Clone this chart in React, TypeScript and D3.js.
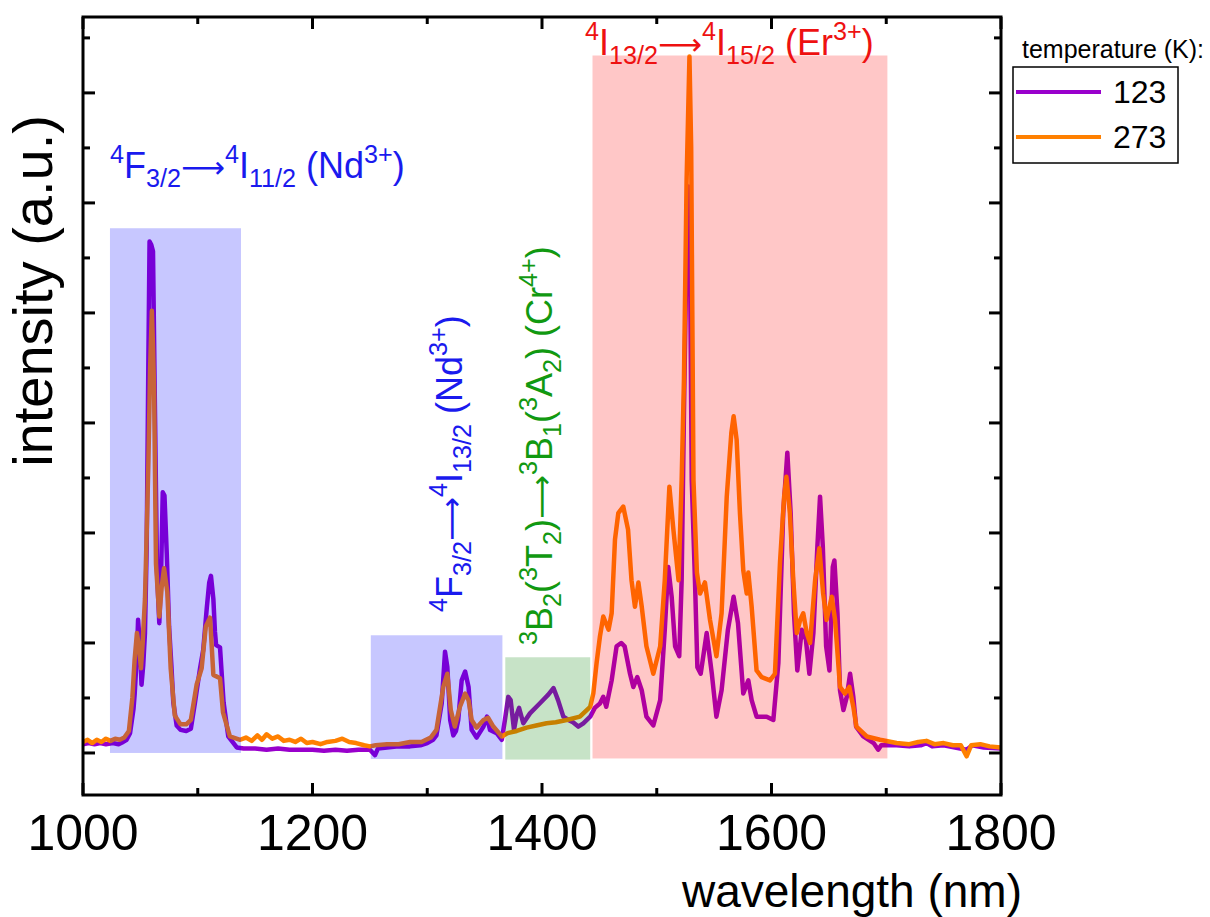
import React from "react";
import * as d3 from "d3";

// emission spectra: [wavelength nm, intensity a.u.]
const spec123: [number, number][] = [
  [1000, 0.08], [1005, 0.09], [1010, 0.08], [1015, 0.09], [1020, 0.08], [1026, 0.09], [1031, 0.08],
  [1035, 0.1], [1038, 0.12], [1041, 0.18], [1044, 0.4], [1045, 0.53], [1047, 0.9], [1048, 1.21],
  [1049.5, 1.0], [1051, 0.62], [1052.5, 0.8], [1054, 1.09], [1055.5, 1.87], [1057, 3.6], [1058, 4.65],
  [1059.5, 4.62], [1061, 4.56], [1062.5, 3.28], [1064.5, 1.65], [1066.5, 1.18], [1068, 1.6],
  [1069.5, 2.37], [1071, 2.34], [1073, 1.81], [1075, 1.15], [1077, 0.8], [1078.7, 0.46], [1081.6, 0.25],
  [1085, 0.21], [1090, 0.2], [1094, 0.22], [1097.6, 0.46], [1102, 0.77], [1104.8, 0.94], [1107.8, 1.31],
  [1110, 1.55], [1111.5, 1.61], [1113.6, 1.4], [1115, 1.1], [1116, 0.98], [1119.4, 0.96], [1121, 0.7],
  [1122.5, 0.46], [1126.6, 0.15], [1134, 0.05], [1140, 0.04], [1150, 0.04], [1160, 0.03], [1170, 0.04],
  [1180, 0.03], [1190, 0.03], [1200, 0.03], [1210, 0.02], [1220, 0.03], [1230, 0.02], [1240, 0.03],
  [1250, 0.03], [1254.5, -0.02], [1257, 0.04], [1265, 0.05], [1275, 0.06], [1285, 0.06], [1294, 0.07],
  [1300, 0.09], [1305, 0.12], [1308, 0.16], [1312.6, 0.45], [1315.5, 0.92], [1317.5, 0.78], [1320, 0.3],
  [1322.7, 0.16], [1325, 0.2], [1327, 0.3], [1330, 0.66], [1333, 0.74], [1336, 0.6], [1338.7, 0.21],
  [1343, 0.14], [1349, 0.24], [1352, 0.33], [1354.7, 0.21], [1360.5, 0.18], [1365, 0.12], [1367.7, 0.3],
  [1370.6, 0.51], [1372.7, 0.48], [1375.6, 0.21], [1378, 0.35], [1380, 0.41], [1383.7, 0.27],
  [1389.5, 0.36], [1398, 0.45], [1405.5, 0.53], [1410, 0.59], [1414, 0.48], [1418.6, 0.33], [1423, 0.3],
  [1427, 0.28], [1431.6, 0.24], [1436, 0.27], [1442, 0.33], [1446, 0.41], [1450.5, 0.45], [1453.4, 0.51],
  [1456, 0.42], [1460.7, 0.66], [1465, 0.97], [1469, 1.0], [1472, 0.97], [1476.7, 0.72], [1479.6, 0.6],
  [1483, 0.69], [1486.9, 0.57], [1491, 0.33], [1497, 0.25], [1503, 0.48], [1507, 1.12], [1510, 1.69],
  [1513, 1.42], [1516, 0.97], [1519.6, 0.88], [1521.7, 1.57], [1523.7, 3.09], [1526, 4.6], [1527.5, 5.15],
  [1529, 4.5], [1530.5, 2.48], [1533.3, 1.57], [1535.4, 0.78], [1538.3, 0.72], [1543.5, 1.09], [1548, 0.72],
  [1552, 0.33], [1556.5, 0.57], [1562, 1.12], [1567, 1.42], [1570.8, 1.18], [1575.4, 0.54], [1579.8, 0.66],
  [1582.7, 0.48], [1587, 0.33], [1595.8, 0.33], [1601.6, 0.3], [1606, 0.82], [1610.2, 2.18], [1613.8, 2.73],
  [1616.7, 2.18], [1619.6, 1.27], [1622.5, 0.75], [1626.4, 1.12], [1630, 1.03], [1633, 0.72], [1636.5, 1.09],
  [1640, 1.88], [1642.3, 2.33], [1644.7, 1.88], [1647.6, 0.97], [1650.5, 0.75], [1653.4, 1.69],
  [1654.8, 1.75], [1657.5, 1.27], [1659.7, 0.57], [1662.7, 0.39], [1665.6, 0.51], [1668.5, 0.72],
  [1671.3, 0.51], [1673.7, 0.24], [1680, 0.15], [1689, 0.09], [1693, 0.03], [1695.6, 0.07], [1709, 0.07],
  [1720, 0.06], [1730, 0.07], [1735, 0.09], [1740, 0.06], [1750, 0.07], [1760, 0.05], [1770, 0.03],
  [1775, 0.07], [1785, 0.05], [1800, 0.04],
];

const spec273: [number, number][] = [
  [1000, 0.1], [1004, 0.12], [1008, 0.09], [1012, 0.12], [1016, 0.1], [1020, 0.13], [1024, 0.11],
  [1028, 0.13], [1032, 0.12], [1036, 0.14], [1040, 0.2], [1043, 0.5], [1045, 0.85], [1047, 1.09],
  [1049, 0.95], [1050.5, 0.77], [1052, 1.0], [1054, 1.4], [1055.5, 2.0], [1057, 2.65], [1058.5, 3.5],
  [1060, 4.02], [1061, 3.7], [1062, 3.28], [1063.6, 1.72], [1066.5, 1.24], [1068.5, 1.5], [1070.6, 1.68],
  [1073.5, 1.46], [1076.4, 0.77], [1080, 0.34], [1085, 0.26], [1090, 0.26], [1094, 0.3], [1099, 0.62],
  [1103.4, 0.77], [1107, 1.15], [1110.7, 1.23], [1112, 1.0], [1113.6, 0.71], [1119.4, 0.68], [1122, 0.37],
  [1128, 0.15], [1137, 0.12], [1142, 0.14], [1147, 0.11], [1152, 0.16], [1156, 0.12], [1160, 0.17],
  [1165, 0.13], [1170, 0.15], [1175, 0.11], [1180, 0.12], [1185, 0.1], [1190, 0.13], [1195, 0.09],
  [1200, 0.1], [1207, 0.08], [1213, 0.1], [1220, 0.11], [1226, 0.13], [1232, 0.1], [1238, 0.09],
  [1245, 0.07], [1250, 0.06], [1255, 0.07], [1265, 0.08], [1275, 0.08], [1285, 0.1], [1295, 0.1],
  [1303, 0.14], [1308, 0.21], [1314, 0.6], [1317.5, 0.72], [1320.5, 0.39], [1324, 0.24], [1328.5, 0.42],
  [1333, 0.54], [1336, 0.48], [1338.7, 0.3], [1343, 0.23], [1349, 0.3], [1353, 0.32], [1357.6, 0.24],
  [1365, 0.15], [1370, 0.18], [1378, 0.2], [1386.6, 0.23], [1395, 0.25], [1404, 0.27], [1412, 0.28],
  [1421.5, 0.3], [1433, 0.33], [1442, 0.42], [1444.7, 0.54], [1447.6, 0.82], [1450.5, 1.06],
  [1453.4, 1.24], [1458, 1.12], [1460.7, 1.27], [1463.6, 1.94], [1466.5, 2.18], [1470.8, 2.24],
  [1475, 2.03], [1478, 1.57], [1481, 1.33], [1484, 1.55], [1486.9, 1.33], [1491, 0.97], [1497, 0.72],
  [1503, 0.97], [1507, 1.57], [1511, 2.42], [1514.5, 2.03], [1519, 1.57], [1521.7, 2.48], [1523.7, 3.39],
  [1526, 5.2], [1528.5, 6.33], [1530, 5.5], [1532, 2.48], [1535, 1.64], [1537.7, 1.45], [1542, 1.55],
  [1546.4, 1.21], [1552, 0.88], [1556.5, 1.27], [1561, 2.33], [1565, 2.91], [1567, 3.06], [1569.6, 2.85],
  [1572.5, 2.18], [1575.4, 1.66], [1578.4, 1.45], [1579.8, 1.64], [1582.7, 1.33], [1587, 0.75],
  [1591.4, 0.69], [1598.7, 0.66], [1603, 0.72], [1607.4, 1.73], [1611, 2.33], [1613, 2.51], [1616, 2.18],
  [1619, 1.57], [1622, 1.09], [1625, 1.21], [1627.7, 1.27], [1630.7, 1.09], [1633.6, 1.0], [1638, 1.57],
  [1641.7, 1.86], [1645, 1.45], [1648, 1.21], [1652.5, 1.42], [1655.4, 1.21], [1659.7, 0.6], [1664, 0.54],
  [1667.8, 0.6], [1671.3, 0.42], [1674, 0.24], [1683, 0.15], [1694.6, 0.12], [1709, 0.09], [1720, 0.08],
  [1728, 0.1], [1735, 0.11], [1742, 0.08], [1750, 0.09], [1758, 0.07], [1765, 0.07], [1770, -0.03],
  [1774, 0.07], [1782, 0.08], [1790, 0.06], [1800, 0.05],
];

const seriesNames = ["123", "273"];
const seriesColors = ["#9900cc", "#ff8000"];

// shaded bands: [from nm, to nm, bottom, top]
const bandNd1 = [1023.5, 1137.7, 0.0, 4.77];
const bandNd2 = [1250.8, 1365.5, -0.055, 1.07];
const bandCr = [1368, 1442, -0.06, 0.87];
const bandEr = [1444, 1701, -0.05, 6.34];

const xTicks = [1000, 1200, 1400, 1600, 1800];

type Seg = [string, ("sup" | "sub" | "arrow")?];

const ARROW: Seg = ["\u27F6", "arrow"];
const labelNd1: Seg[] = [["4", "sup"], ["F"], ["3/2", "sub"], ARROW, ["4", "sup"], ["I"], ["11/2", "sub"], [" (Nd"], ["3+", "sup"], [")"]];
const labelNd2: Seg[] = [["4", "sup"], ["F"], ["3/2", "sub"], ARROW, ["4", "sup"], ["I"], ["13/2", "sub"], [" (Nd"], ["3+", "sup"], [")"]];
const labelCr: Seg[] = [["3", "sup"], ["B"], ["2", "sub"], ["("], ["3", "sup"], ["T"], ["2", "sub"], [")"], ARROW, ["3", "sup"], ["B"], ["1", "sub"], ["("], ["3", "sup"], ["A"], ["2", "sub"], [") (Cr"], ["4+", "sup"], [")"]];
const labelEr: Seg[] = [["4", "sup"], ["I"], ["13/2", "sub"], ARROW, ["4", "sup"], ["I"], ["15/2", "sub"], [" (Er"], ["3+", "sup"], [")"]];

const FONT = "'Liberation Sans', Arial, sans-serif";

function RichText({ segs, size, fill, x, y, rotate }: { segs: Seg[]; size: number; fill: string; x: number; y: number; rotate?: number }) {
  let cur = 0;
  return (
    <text x={x} y={y} fill={fill} fontSize={size} fontFamily={FONT}
      transform={rotate ? `rotate(${rotate},${x},${y})` : undefined}>
      {segs.map(([t, k], i) => {
        const target = k === "sup" ? -0.42 * size : k === "sub" ? 0.26 * size : 0;
        const dy = target - cur;
        cur = target;
        const fs = k === "sup" || k === "sub" ? size * 0.7 : k === "arrow" ? size * 0.85 : size;
        return (
          <tspan key={i} dy={dy} fontSize={fs}
            fontFamily={k === "arrow" ? "'DejaVu Sans', sans-serif" : undefined}>{t}</tspan>
        );
      })}
    </text>
  );
}

const App = () => {
  const width = 1210;
  const height = 917;
  const left = 83, right = 1001, top = 17, bottom = 795;

  const x = d3.scaleLinear().domain([1000, 1800]).range([left, right]);
  const y = d3.scaleLinear().domain([-0.382, 6.69]).range([bottom, top]);

  const line = d3.line<[number, number]>().x((d) => x(d[0])).y((d) => y(d[1]));

  const xMajor = d3.range(1000, 1801, 200);
  const xMinor = d3.range(1100, 1800, 200);
  const yMajor = d3.range(0, 7);
  const yMinor = d3.range(0.5, 6.6, 1);

  const band = (b: number[], color: string, key: string) => (
    <rect key={key} x={x(b[0])} width={x(b[1]) - x(b[0])} y={y(b[3])} height={y(b[2]) - y(b[3])}
      fill={color} fillOpacity={0.22} />
  );

  return (
    <svg width={width} height={height} style={{ position: "absolute", left: 0, top: 0, background: "#fff" }}>
      <defs>
        <clipPath id="plot">
          <rect x={left} y={top} width={right - left} height={bottom - top} />
        </clipPath>
      </defs>

      <g clipPath="url(#plot)">
        <path d={line(spec123) || ""} fill="none" stroke={seriesColors[0]} strokeWidth={4.5} strokeLinejoin="round" />
        <path d={line(spec273) || ""} fill="none" stroke={seriesColors[1]} strokeWidth={4.5} strokeLinejoin="round" />
      </g>

      {/* translucent bands drawn over the lines */}
      {band(bandNd1, "#0000ff", "nd1")}
      {band(bandNd2, "#0000ff", "nd2")}
      {band(bandCr, "#008000", "cr")}
      {band(bandEr, "#ff0000", "er")}

      {/* frame and ticks */}
      <g stroke="#000" strokeWidth={3}>
        {xMajor.map((v) => (
          <g key={"xm" + v}>
            <line x1={x(v)} x2={x(v)} y1={bottom} y2={bottom - 12} />
            <line x1={x(v)} x2={x(v)} y1={top} y2={top + 12} />
          </g>
        ))}
        {xMinor.map((v) => (
          <g key={"xn" + v}>
            <line x1={x(v)} x2={x(v)} y1={bottom} y2={bottom - 7} />
            <line x1={x(v)} x2={x(v)} y1={top} y2={top + 7} />
          </g>
        ))}
        {yMajor.map((v) => (
          <g key={"ym" + v}>
            <line x1={left} x2={left + 12} y1={y(v)} y2={y(v)} />
            <line x1={right} x2={right - 12} y1={y(v)} y2={y(v)} />
          </g>
        ))}
        {yMinor.map((v) => (
          <g key={"yn" + v}>
            <line x1={left} x2={left + 7} y1={y(v)} y2={y(v)} />
            <line x1={right} x2={right - 7} y1={y(v)} y2={y(v)} />
          </g>
        ))}
        <rect x={left} y={top} width={right - left} height={bottom - top} fill="none" />
      </g>

      {xTicks.map((v) => (
        <text key={"xl" + v} x={x(v)} y={850} textAnchor="middle" fontSize={50} fontFamily={FONT}>{v}</text>
      ))}
      <text x={1022} y={907} textAnchor="end" fontSize={46} fontFamily={FONT}>wavelength (nm)</text>
      <text x={52} y={291} textAnchor="middle" fontSize={56} fontFamily={FONT}
        transform="rotate(-90,52,291)">intensity (a.u.)</text>

      {/* transition labels */}
      <RichText segs={labelNd1} size={36} fill="#1a1aee" x={110} y={178} />
      <RichText segs={labelEr} size={36} fill="#ee1111" x={585} y={55} />
      <RichText segs={labelNd2} size={36} fill="#1a1aee" x={462} y={612} rotate={-90} />
      <RichText segs={labelCr} size={36} fill="#119911" x={552} y={645} rotate={-90} />

      {/* legend */}
      <text x={1022} y={58} fontSize={25} fontFamily={FONT}>temperature (K):</text>
      <rect x={1013} y={67} width={165} height={96} fill="#fff" stroke="#000" strokeWidth={1.5} />
      {seriesNames.map((n, i) => (
        <g key={n}>
          <line x1={1016} x2={1101} y1={92 + i * 45} y2={92 + i * 45} stroke={seriesColors[i]} strokeWidth={4} />
          <text x={1113} y={103 + i * 45} fontSize={32} fontFamily={FONT}>{n}</text>
        </g>
      ))}
    </svg>
  );
};

export default App;
